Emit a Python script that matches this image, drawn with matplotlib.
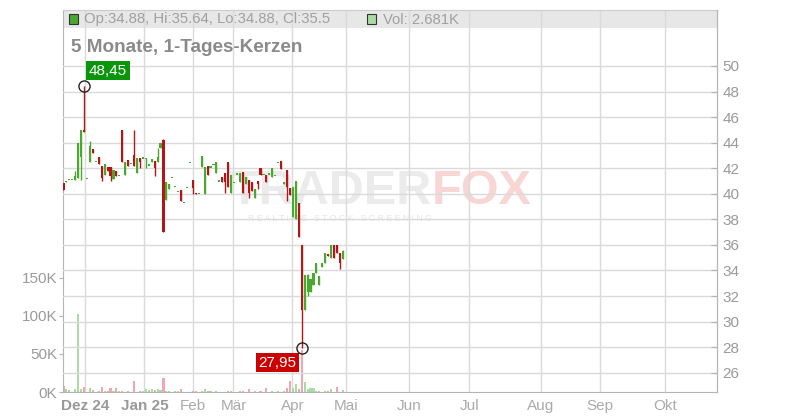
import matplotlib
matplotlib.use("Agg")
import matplotlib.pyplot as plt
from matplotlib.patches import Rectangle
import numpy as np

plt.rcParams['font.family'] = ['Liberation Sans', 'DejaVu Sans']

# ---------------- data ----------------
opens = [40.85, 40.90, 41.10, 41.10, 41.10, 41.20, 42.90, 45.00, 41.20, 42.45,
         43.50, 42.50, 42.85, 42.20, 41.50, 42.10, 42.10, 41.15, 41.80, 41.45,
         45.00, 41.50, 42.65, 42.40, 43.00, 41.60, 42.80, 42.80, 42.75, 42.25,
         42.50, 42.60, 42.50, 43.55, 44.20, 39.50, 40.40, 41.30, 40.60, 40.20,
         40.30, 39.30, 40.50, 42.45, 41.10, 40.05, 40.00, 42.10, 40.00, 42.20,
         42.10, 42.30, 41.65, 41.00, 41.30, 41.60, 42.45, 40.05, 40.90, 41.55,
         40.90, 41.70, 40.75, 41.10, 40.95, 39.65, 41.00, 42.00, 41.50, 41.50,
         41.55, 41.35, 41.40, 42.45, 42.55, 40.80, 41.85, 40.45, 38.20, 38.00,
         39.25, 36.00, 30.90, 32.35, 32.30, 32.90, 33.80, 32.90, 34.30, 34.55,
         35.30, 34.95, 36.00, 36.00, 35.35, 34.88]
highs = [40.85, 41.00, 41.10, 41.10, 41.75, 44.00, 45.00, 48.45, 41.20, 44.10,
         43.50, 42.50, 42.85, 42.20, 42.30, 42.10, 42.10, 41.85, 41.80, 41.45,
         45.00, 42.45, 42.65, 42.40, 45.00, 42.80, 42.80, 42.80, 42.80, 42.25,
         42.70, 42.60, 43.60, 44.00, 44.30, 40.95, 40.80, 41.30, 40.60, 40.20,
         40.30, 39.30, 40.50, 42.45, 41.10, 40.05, 40.00, 42.95, 42.10, 42.20,
         42.10, 42.30, 42.50, 41.00, 41.30, 41.60, 42.45, 41.50, 40.90, 41.55,
         41.60, 41.70, 41.30, 41.10, 40.95, 40.35, 41.00, 42.00, 41.50, 41.50,
         41.55, 42.00, 41.40, 42.45, 42.55, 40.95, 41.85, 40.45, 40.50, 41.00,
         39.25, 36.00, 33.65, 33.70, 33.30, 33.80, 34.55, 33.55, 34.60, 35.35,
         35.30, 36.00, 36.00, 36.00, 35.35, 35.64]
lows = [40.30, 40.90, 41.10, 41.10, 41.05, 41.20, 41.10, 44.85, 41.20, 42.45,
        43.20, 42.50, 42.30, 41.00, 41.50, 41.80, 41.00, 41.15, 41.40, 41.45,
        42.45, 41.50, 42.20, 42.40, 42.15, 41.60, 42.05, 42.80, 42.00, 42.25,
        42.50, 41.40, 42.50, 43.55, 37.00, 39.50, 40.40, 41.30, 40.60, 40.20,
        39.40, 39.30, 40.50, 42.45, 40.00, 40.00, 40.00, 42.10, 40.00, 41.50,
        42.10, 42.30, 41.65, 41.00, 40.95, 40.10, 40.50, 40.05, 40.90, 41.55,
        40.90, 40.05, 40.75, 39.65, 40.25, 39.65, 40.40, 41.50, 41.50, 40.95,
        41.55, 41.35, 41.40, 42.45, 41.90, 40.80, 39.40, 39.90, 38.20, 38.00,
        36.60, 27.95, 30.90, 32.00, 32.30, 32.90, 33.80, 32.90, 34.30, 34.55,
        35.10, 34.95, 34.95, 35.35, 34.10, 34.88]
closes = [40.30, 41.00, 41.10, 41.10, 41.40, 44.00, 45.00, 44.85, 41.20, 43.75,
          43.20, 42.50, 42.30, 41.20, 42.30, 41.80, 41.40, 41.85, 41.40, 41.45,
          42.45, 42.45, 42.20, 42.40, 42.20, 42.80, 42.45, 42.80, 42.80, 42.25,
          42.70, 42.00, 42.85, 44.00, 37.00, 40.95, 40.80, 41.30, 40.60, 40.20,
          39.40, 39.30, 40.50, 42.45, 40.45, 40.00, 40.00, 42.95, 42.10, 41.50,
          42.10, 42.30, 42.50, 41.00, 40.95, 40.90, 40.50, 41.50, 40.90, 41.55,
          41.60, 40.05, 41.30, 40.05, 40.25, 40.35, 40.75, 41.50, 41.50, 40.95,
          41.55, 42.00, 41.40, 42.45, 41.90, 40.95, 40.55, 39.90, 40.50, 41.00,
          36.60, 30.90, 33.65, 33.65, 33.30, 33.80, 34.55, 33.55, 34.60, 35.35,
          35.10, 36.00, 34.95, 35.35, 34.55, 35.50]
volumes_k = [8, 3.5, 2, 0.6, 3.5, 103, 3.5, 6, 0.6, 5,
             2.5, 0.6, 1.5, 6, 1.5, 1.5, 5, 1.5, 5, 1.5,
             1.5, 0.6, 1.5, 0.6, 14, 0.6, 1.5, 1.5, 3.5, 2.5,
             3.5, 2.5, 3.5, 2.5, 18, 1.5, 1.5, 0.6, 1.5, 1.5,
             3.5, 0.6, 0.6, 0.6, 1.5, 1.5, 0.6, 1.5, 3.5, 1.5,
             1.5, 0.6, 1.5, 0.6, 0.6, 0.6, 1.5, 1.5, 0.6, 0.6,
             1.5, 1.5, 0.6, 3.5, 0.6, 1.5, 0.6, 1.5, 0.6, 5,
             0.6, 1.5, 0.6, 1.5, 0.6, 1.5, 5, 14, 5, 10,
             3.5, 55, 13, 3.5, 5, 5, 1.5, 1.5, 0.6, 1.5,
             1.5, 3.5, 0.6, 6, 0.6, 2.681]

month_labels = ["Dez 24", "Jan 25", "Feb", "Mär", "Apr", "Mai", "Jun", "Jul", "Aug", "Sep", "Okt"]
month_pos = [7.3, 27.5, 43.9, 57.8, 77.8, 96.0, 117.5, 138.0, 162.2, 182.3, 204.4]
bold_labels = ["Dez 24", "Jan 25"]
price_ticks = [26, 28, 30, 32, 34, 36, 38, 40, 42, 44, 46, 48, 50]
vol_ticks_k = [0, 50, 100, 150]
title = "5 Monate, 1-Tages-Kerzen"

# ---------------- style ----------------
GREEN = "#4aa82e"
RED = "#b51515"
VGREEN = "#a9dba3"
VRED = "#f2a7b0"
GRID = "#dadada"
SPINE = "#b4b4b4"
TXT = "#9a9a9a"

W, H = 800, 420
fig = plt.figure(figsize=(8, 4.2), dpi=100)
px_l, px_r, px_b, px_t = 63, 716.7, 392, 10
axv = fig.add_axes([px_l / W, 1 - px_b / H, (px_r - px_l) / W, (px_b - px_t) / H])
axp = axv.twinx()

n = len(opens)
x = np.arange(n)
o = np.array(opens); c = np.array(closes); hi = np.array(highs); lo = np.array(lows)
up = c >= o
cols = np.where(up, GREEN, RED)
vcols = np.where(up, VGREEN, VRED)

axv.set_xlim(-0.17, 222.1)
axv.set_ylim(0, 502.6)
axp.set_ylim(24.49, 54.38)

# header band
axv.add_patch(Rectangle((0, (px_b - 28) / (px_b - px_t)), 1, 1 - (px_b - 28) / (px_b - px_t),
                        transform=axv.transAxes, fc="#e7e7e7", ec="none", zorder=0.2))

# watermark
axv.text(432 / W, 1 - 192 / H, "TRADER", transform=fig.transFigure, ha="right", va="center",
         fontsize=35, fontweight="bold", color="#ebebeb", zorder=0.3)
axv.text(432 / W, 1 - 192 / H, "FOX", transform=fig.transFigure, ha="left", va="center",
         fontsize=35, fontweight="bold", color="#f8d6d6", zorder=0.3)
axv.text(340 / W, 1 - 218 / H, "R E A L T I M E   S T O C K   S C R E E N I N G",
         transform=fig.transFigure, ha="center", va="center",
         fontsize=6.3, color="#e6e6e6", zorder=0.3)

# grid
axv.set_axisbelow(True)
axv.set_xticks(month_pos)
axv.grid(axis="x", color=GRID, lw=1)
for p in price_ticks:
    axp.axhline(p, color=GRID, lw=1, zorder=0.5)

# volume bars
axv.bar(x, volumes_k, width=0.72, color=vcols, zorder=1)

# candles
axp.vlines(x, lo, hi, colors=cols, lw=1.0, zorder=2)
body_lo = np.minimum(o, c)
body_h = np.maximum(np.abs(c - o), 0.09)
axp.bar(x, body_h, bottom=body_lo - np.where(np.abs(c - o) < 0.09, 0.045, 0), width=0.72,
        color=cols, zorder=3)

# extremes
imax = int(np.argmax(hi)); imin = int(np.argmin(lo))
for idx, val, fc, dx, dy, ha, va in [(imax, hi[imax], "#0a960a", 5, 8, "left", "bottom"),
                                     (imin, lo[imin], "#cc0000", -5, -8, "right", "top")]:
    axp.plot([idx], [val], "o", ms=8, mfc="none", mec="#222222", mew=1.0, zorder=6)
    axp.annotate(f"{val:.2f}".replace(".", ","), xy=(idx, val), xytext=(dx, dy),
                 textcoords="offset pixels", ha=ha, va=va, color="white", fontsize=11,
                 bbox=dict(boxstyle="square,pad=0.17", fc=fc, ec="none"), zorder=7)

# axes styling
for sp in ["left", "bottom", "right"]:
    axv.spines[sp].set_color(SPINE)
axv.spines["top"].set_color("#cccccc")
for sp in axp.spines.values():
    sp.set_visible(False)
axp.spines["right"].set_visible(True)
axp.spines["right"].set_color(SPINE)

axv.set_yticks(vol_ticks_k)
axv.set_yticklabels([f"{v}K" for v in vol_ticks_k])
axv.tick_params(axis="y", direction="out", length=3, color=SPINE, labelcolor=TXT, labelsize=11, pad=1)
axv.set_xticklabels(month_labels)
axv.tick_params(axis="x", length=0, labelcolor="#aaaaaa", labelsize=11, pad=5)
for lab in axv.get_xticklabels():
    if lab.get_text() in bold_labels:
        lab.set_fontweight("bold")
        lab.set_color("#999999")

axp.set_yticks(price_ticks)
axp.set_yticklabels([str(p) for p in price_ticks])
axp.tick_params(axis="y", direction="in", length=4, color=SPINE, labelcolor=TXT, labelsize=11, pad=4)

# header texts
fig.add_artist(Rectangle((69 / W, 1 - 24 / H), 9 / W, 10 / H, transform=fig.transFigure,
                         fc=GREEN, ec="#333333", lw=0.8))
fig.text(84 / W, 1 - 19.5 / H,
         f"Op:{opens[-1]}, Hi:{highs[-1]}, Lo:{lows[-1]}, Cl:{closes[-1]}",
         fontsize=10.7, color="#a0a0a0", va="center", ha="left")
fig.add_artist(Rectangle((367 / W, 1 - 24 / H), 9 / W, 10 / H, transform=fig.transFigure,
                         fc=VGREEN, ec="#333333", lw=0.8))
fig.text(383 / W, 1 - 19.5 / H, f"Vol: {volumes_k[-1]}K",
         fontsize=10.7, color="#a0a0a0", va="center", ha="left")
fig.text(71 / W, 1 - 47 / H, title, fontsize=13.6, fontweight="bold", color="#8a8a8a",
         va="center", ha="left")

fig.savefig("out.png", dpi=100)
